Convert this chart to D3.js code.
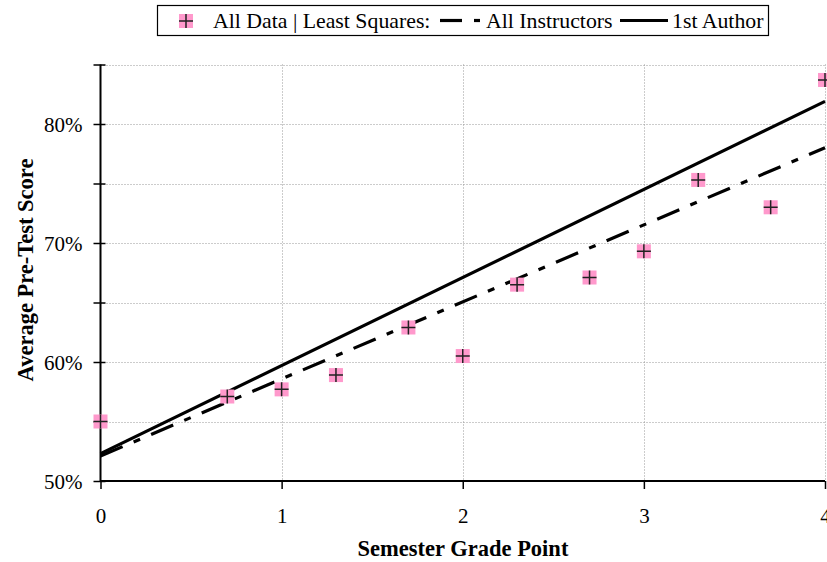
<!DOCTYPE html>
<html><head><meta charset="utf-8">
<script src="https://cdn.jsdelivr.net/npm/d3@7"></script>
<style>body{margin:0;background:#fff}svg{display:block}</style>
</head><body>
<script>
const gradePoints = [0, 0.7, 1.0, 1.3, 1.7, 2.0, 2.3, 2.7, 3.0, 3.3, 3.7, 4.0];
const preTestScores = [55.0, 57.1, 57.7, 58.9, 62.9, 60.5, 66.5, 67.1, 69.3, 75.3, 73.0, 83.7];
const fitAllInstructors = [[0, 52.1], [4, 78.0]];
const fit1stAuthor = [[0, 52.3], [4, 81.9]];
const xTicks = [0, 1, 2, 3, 4];
const yMajorTicks = [50, 60, 70, 80];
const yGridTicks = [55, 60, 65, 70, 75, 80, 85];

const W = 827, H = 562;
const svg = d3.select("body").append("svg").attr("width", W).attr("height", H);
const x = d3.scaleLinear().domain([0, 4]).range([100.5, 825]);
const y = d3.scaleLinear().domain([50, 85]).range([481, 64.5]);
const serif = "'Liberation Serif','Times New Roman',serif";

// grid
const grid = svg.append("g").attr("stroke", "#999").attr("stroke-width", 1).attr("stroke-dasharray", "1,2");
grid.selectAll(".hg").data(yGridTicks).join("line")
  .attr("x1", x(0)).attr("x2", x(4)).attr("y1", d => Math.round(y(d)) + 0.5).attr("y2", d => Math.round(y(d)) + 0.5);
grid.selectAll(".vg").data(xTicks.slice(1)).join("line")
  .attr("x1", d => Math.round(x(d)) + 0.5).attr("x2", d => Math.round(x(d)) + 0.5).attr("y1", y(85)).attr("y2", y(50));

// axes
const yAxis = d3.axisLeft(y).tickValues(d3.range(50, 86, 5)).tickSize(7)
  .tickFormat(d => yMajorTicks.includes(d) ? d + "%" : "");
const gy = svg.append("g").attr("transform", `translate(${x(0)},0)`).call(yAxis);
gy.select(".domain").attr("stroke-width", 2).attr("d", `M0,${y(85)}V${y(50)}`);
gy.selectAll(".tick line").attr("x1", -7).attr("x2", 5).attr("stroke-width", 1.5);
gy.selectAll(".tick text").attr("font-family", serif).attr("font-size", 21).attr("fill", "#000")
  .attr("x", -18).attr("dy", "0.35em");

const xAxis = d3.axisBottom(x).tickValues(xTicks).tickSize(8).tickFormat(d3.format("d"));
const gx = svg.append("g").attr("transform", `translate(0,${y(50)})`).call(xAxis);
gx.select(".domain").attr("stroke-width", 2).attr("d", `M${x(0)},0H${x(4)}`);
gx.selectAll(".tick line").attr("stroke-width", 1.5);
gx.selectAll(".tick text").attr("font-family", serif).attr("font-size", 21).attr("fill", "#000")
  .attr("y", 42).attr("dy", "0");

// fit lines
const line = d3.line().x(d => x(d[0])).y(d => y(d[1]));
svg.append("path").datum(fitAllInstructors).attr("d", line).attr("fill", "none")
  .attr("stroke", "#000").attr("stroke-width", 3.2).attr("stroke-dasharray", "24,12,7,12");
svg.append("path").datum(fit1stAuthor).attr("d", line).attr("fill", "none")
  .attr("stroke", "#000").attr("stroke-width", 3.2);

// markers
function marker(g) {
  g.append("rect").attr("x", -7).attr("y", -7).attr("width", 14).attr("height", 14).attr("fill", "#ff99cc");
  g.append("path").attr("d", "M-7,0H7M0,-7V7").attr("stroke", "#222").attr("stroke-width", 1.5);
}
const pts = gradePoints.map((g, i) => [g, preTestScores[i]]);
svg.selectAll(".pt").data(pts).join("g").attr("class", "pt")
  .attr("transform", d => `translate(${x(d[0])},${y(d[1])})`).each(function () { marker(d3.select(this)); });

// axis titles
svg.append("text").attr("x", 463).attr("y", 556).attr("text-anchor", "middle")
  .attr("font-family", serif).attr("font-weight", "bold").attr("font-size", 22.5).text("Semester Grade Point");
svg.append("text").attr("transform", "translate(33,270) rotate(-90)").attr("text-anchor", "middle")
  .attr("font-family", serif).attr("font-weight", "bold").attr("font-size", 22.5).text("Average Pre-Test Score");

// legend
const lg = svg.append("g");
lg.append("rect").attr("x", 157.5).attr("y", 5.5).attr("width", 611).attr("height", 30).attr("fill", "#fff").attr("stroke", "#000").attr("stroke-width", 1.2);
const m = lg.append("g").attr("transform", "translate(186,21)"); marker(m);
lg.append("text").attr("x", 213).attr("y", 28).attr("font-family", serif).attr("font-size", 21.8).text("All Data | Least Squares:");
lg.append("line").attr("x1", 440).attr("x2", 462).attr("y1", 20.5).attr("y2", 20.5).attr("stroke", "#000").attr("stroke-width", 3.2);
lg.append("line").attr("x1", 474).attr("x2", 480).attr("y1", 20.5).attr("y2", 20.5).attr("stroke", "#000").attr("stroke-width", 3.2);
lg.append("text").attr("x", 486).attr("y", 28).attr("font-family", serif).attr("font-size", 21.8).text("All Instructors");
lg.append("line").attr("x1", 620).attr("x2", 668).attr("y1", 20.5).attr("y2", 20.5).attr("stroke", "#000").attr("stroke-width", 3.2);
lg.append("text").attr("x", 672).attr("y", 28).attr("font-family", serif).attr("font-size", 21.8).text("1st Author");
</script>
</body></html>
